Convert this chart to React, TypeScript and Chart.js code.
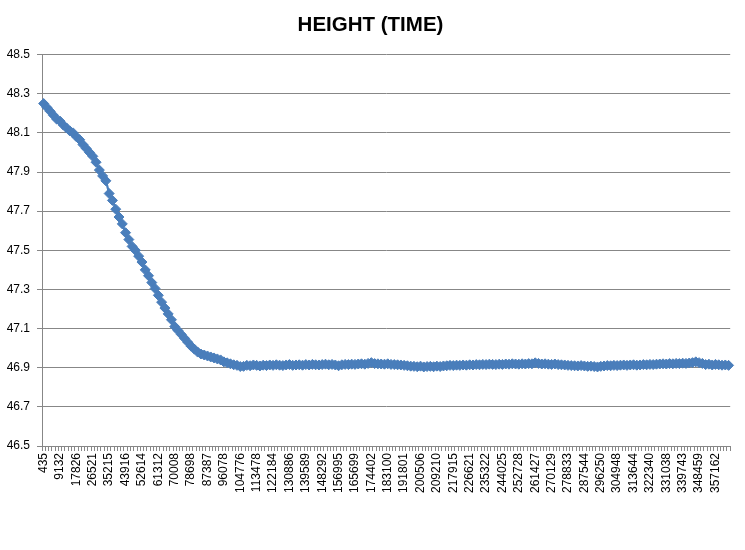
import { useEffect, useRef } from "react";
import { Chart, ChartConfiguration, registerables } from "chart.js";
Chart.register(...registerables);

// visible time labels on the x axis (every 5th category)
const TIME_LABELS = [
  435, 9132, 17826, 26521, 35215, 43916, 52614, 61312, 70008, 78698, 87387,
  96078, 104776, 113478, 122184, 130886, 139589, 148292, 156995, 165699,
  174402, 183100, 191801, 200506, 209210, 217915, 226621, 235322, 244025,
  252728, 261427, 270129, 278833, 287544, 296250, 304948, 313644, 322340,
  331038, 339743, 348459, 357162,
];

// height readings, one per category
const HEIGHT = [
  48.25, 48.23, 48.21, 48.19, 48.17, 48.16, 48.14, 48.125, 48.11, 48.1,
  48.08, 48.065, 48.04, 48.02, 48.0, 47.98, 47.95, 47.91, 47.88, 47.855,
  47.79, 47.755, 47.71, 47.67, 47.635, 47.59, 47.555, 47.52, 47.5, 47.47,
  47.44, 47.4, 47.37, 47.335, 47.305, 47.27, 47.235, 47.205, 47.175, 47.145,
  47.11, 47.09, 47.07, 47.05, 47.03, 47.01, 46.995, 46.98, 46.97, 46.965,
  46.96, 46.955, 46.95, 46.945, 46.94, 46.93, 46.925, 46.92, 46.915, 46.912,
  46.906, 46.907, 46.912, 46.91, 46.914, 46.912, 46.909, 46.913, 46.911, 46.914,
  46.912, 46.915, 46.913, 46.911, 46.914, 46.916, 46.912, 46.914, 46.915, 46.913,
  46.916, 46.914, 46.917, 46.915, 46.914, 46.916, 46.918, 46.915, 46.917, 46.914,
  46.91, 46.915, 46.917, 46.916, 46.918, 46.917, 46.919, 46.92, 46.918, 46.922,
  46.926, 46.921, 46.92, 46.919, 46.918, 46.92, 46.917, 46.916, 46.915, 46.914,
  46.912, 46.91, 46.908, 46.907, 46.905, 46.908, 46.904, 46.906, 46.907, 46.905,
  46.908, 46.906, 46.909, 46.91, 46.912, 46.911, 46.913, 46.912, 46.914, 46.913,
  46.915, 46.914, 46.916, 46.915, 46.917, 46.916, 46.918, 46.917, 46.916, 46.918,
  46.917, 46.919, 46.918, 46.92, 46.919, 46.918, 46.92, 46.919, 46.921, 46.92,
  46.925, 46.922, 46.919, 46.92, 46.918, 46.917, 46.919, 46.916, 46.915, 46.914,
  46.912, 46.911, 46.91, 46.909, 46.911, 46.909, 46.907, 46.908, 46.906, 46.904,
  46.907, 46.909, 46.911, 46.91, 46.912, 46.911, 46.913, 46.914, 46.912, 46.914,
  46.915, 46.913, 46.914, 46.916, 46.915, 46.917, 46.916, 46.918, 46.919, 46.92,
  46.919, 46.921, 46.92, 46.922, 46.921, 46.923, 46.922, 46.924, 46.926, 46.93,
  46.926, 46.922, 46.916, 46.918, 46.914, 46.917, 46.915, 46.913, 46.914, 46.912,
];

const LABEL_EVERY = 5;
const Y_MIN = 46.5;
const Y_MAX = 48.5;
const Y_STEP = 0.2;

const BLUE = "#4a7ebb";
const GRID = "#878787";
const FONT = "'Liberation Sans', Arial, sans-serif";

const App = () => {
  const chartRef = useRef<HTMLCanvasElement>(null);
  const chartInstanceRef = useRef<Chart | null>(null);

  useEffect(() => {
    document.body.style.margin = "0";
    if (chartInstanceRef.current) {
      chartInstanceRef.current.destroy();
    }
    if (!chartRef.current) return;
    const ctx = chartRef.current.getContext("2d");
    if (!ctx) return;

    const categories = HEIGHT.map((_, i) =>
      i % LABEL_EVERY === 0 ? String(TIME_LABELS[i / LABEL_EVERY] ?? "") : ""
    );

    const config: ChartConfiguration = {
      type: "line",
      data: {
        labels: categories,
        datasets: [
          {
            data: HEIGHT,
            borderColor: BLUE,
            backgroundColor: BLUE,
            borderWidth: 2.25,
            pointStyle: "rectRot",
            pointRadius: 5,
            pointBorderWidth: 1,
            pointBackgroundColor: BLUE,
            pointBorderColor: BLUE,
            tension: 0,
          },
        ],
      },
      options: {
        responsive: true,
        maintainAspectRatio: false,
        animation: false,
        // left/right padding keeps the title centred where the original has it
        layout: { padding: { left: 5, right: 9, top: 0, bottom: 0 } },
        plugins: {
          legend: { display: false },
          tooltip: { enabled: false },
          title: {
            display: true,
            text: "HEIGHT (TIME)",
            color: "#000",
            font: { family: FONT, size: 20.5, weight: "bold" },
            padding: { top: 13, bottom: 17 },
          },
        },
        scales: {
          x: {
            type: "category",
            offset: true,
            grid: {
              offset: true,
              drawOnChartArea: false,
              drawTicks: true,
              tickLength: 5,
              color: GRID,
            },
            border: { color: GRID, width: 1 },
            ticks: {
              autoSkip: false,
              maxRotation: 90,
              minRotation: 90,
              padding: 2,
              color: "#000",
              font: { family: FONT, size: 12 },
            },
            afterFit: (scale: any) => {
              scale.height = 104;
            },
          },
          y: {
            min: Y_MIN,
            max: Y_MAX,
            grid: { color: GRID, tickLength: 5, lineWidth: 1 },
            border: { color: GRID, width: 1 },
            ticks: {
              stepSize: Y_STEP,
              padding: 7,
              color: "#000",
              font: { family: FONT, size: 12 },
              callback: (v: any) => Number(v).toFixed(1),
            },
            afterFit: (scale: any) => {
              scale.width = 37;
            },
          },
        },
      },
    };

    chartInstanceRef.current = new Chart(ctx, config);

    return () => {
      if (chartInstanceRef.current) {
        chartInstanceRef.current.destroy();
        chartInstanceRef.current = null;
      }
    };
  }, []);

  return (
    <div style={{ width: 745, height: 550, background: "#fff", position: "relative" }}>
      <canvas ref={chartRef}></canvas>
    </div>
  );
};

export default App;
